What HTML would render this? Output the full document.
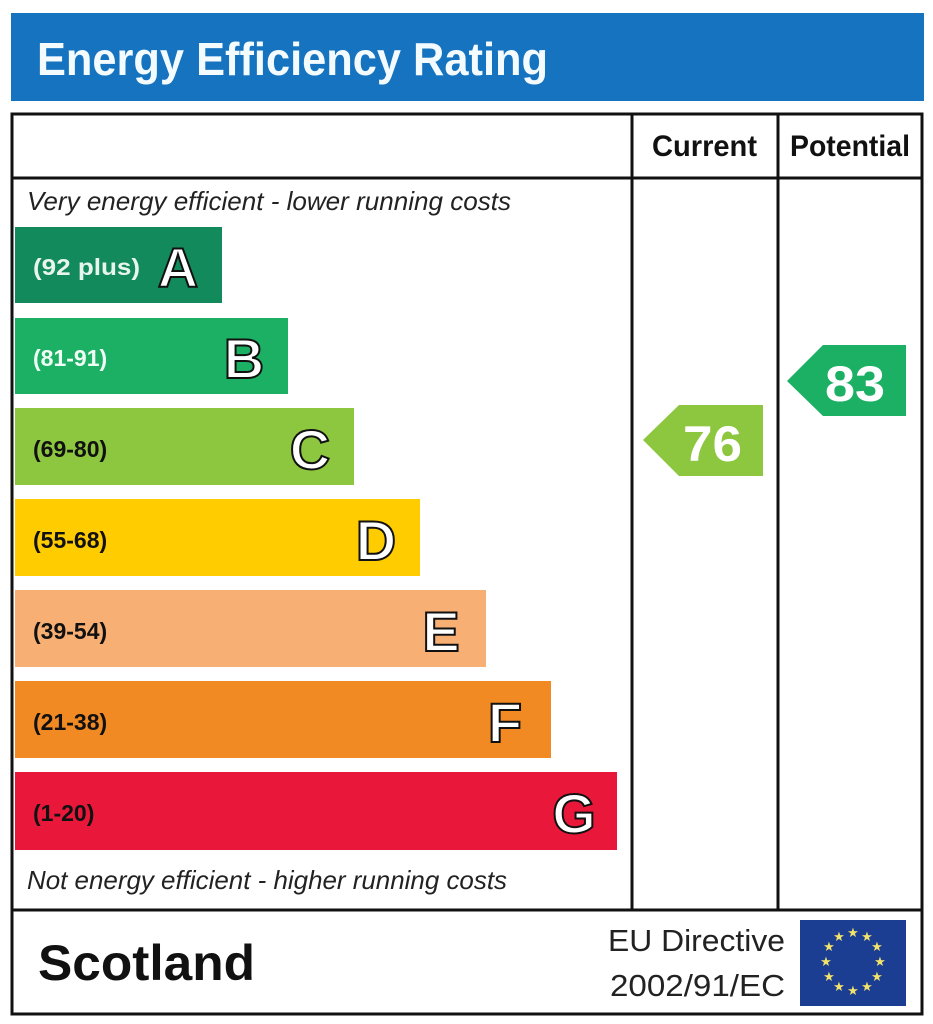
<!DOCTYPE html>
<html><head><meta charset="utf-8"><style>
html,body{margin:0;padding:0;background:#fff;}
svg,svg text{font-family:"Liberation Sans",Arial,sans-serif;}
svg{display:block;}
</style></head><body>
<svg width="933" height="1024" viewBox="0 0 933 1024" xmlns="http://www.w3.org/2000/svg" font-family="Liberation Sans, Arial, sans-serif">
<rect x="11" y="13" width="913" height="88" fill="#1673bf"/>
<text x="37" y="75" font-size="46" font-weight="bold" fill="#f4fbff" textLength="511" lengthAdjust="spacingAndGlyphs">Energy Efficiency Rating</text>
<rect x="12" y="114" width="910" height="900" fill="none" stroke="#111" stroke-width="3"/>
<line x1="12" y1="178" x2="922" y2="178" stroke="#111" stroke-width="3"/>
<line x1="632" y1="114" x2="632" y2="910" stroke="#111" stroke-width="3"/>
<line x1="778" y1="114" x2="778" y2="910" stroke="#111" stroke-width="3"/>
<line x1="12" y1="910" x2="922" y2="910" stroke="#111" stroke-width="3"/>
<text x="652" y="156" font-size="30" font-weight="bold" fill="#111" textLength="105" lengthAdjust="spacingAndGlyphs">Current</text>
<text x="790" y="156" font-size="30" font-weight="bold" fill="#111" textLength="120" lengthAdjust="spacingAndGlyphs">Potential</text>
<text x="27" y="210" font-size="26" font-style="italic" fill="#222" textLength="484" lengthAdjust="spacingAndGlyphs">Very energy efficient - lower running costs</text>
<text x="27" y="889" font-size="26" font-style="italic" fill="#222" textLength="480" lengthAdjust="spacingAndGlyphs">Not energy efficient - higher running costs</text>
<g font-weight="bold">
<rect x="15" y="227" width="207" height="76" fill="#138a5b"/>
<text x="33" y="275" font-size="23" fill="#e8f5ee" textLength="107" lengthAdjust="spacingAndGlyphs">(92 plus)</text>
<text x="178" y="287" font-size="56" fill="#fff" stroke="#111" stroke-width="2" text-anchor="middle">A</text>
<rect x="15" y="318" width="273" height="76" fill="#1bb063"/>
<text x="33" y="366" font-size="23" fill="#f0fff5">(81-91)</text>
<text x="244" y="378" font-size="56" fill="#fff" stroke="#111" stroke-width="2" text-anchor="middle">B</text>
<rect x="15" y="408" width="339" height="77" fill="#8dc63f"/>
<text x="33" y="457" font-size="23" fill="#111">(69-80)</text>
<text x="310" y="469" font-size="56" fill="#fff" stroke="#111" stroke-width="2" text-anchor="middle">C</text>
<rect x="15" y="499" width="405" height="77" fill="#ffcc00"/>
<text x="33" y="548" font-size="23" fill="#111">(55-68)</text>
<text x="376" y="560" font-size="56" fill="#fff" stroke="#111" stroke-width="2" text-anchor="middle">D</text>
<rect x="15" y="590" width="471" height="77" fill="#f7af73"/>
<text x="33" y="639" font-size="23" fill="#111">(39-54)</text>
<text x="441" y="651" font-size="56" fill="#fff" stroke="#111" stroke-width="2" text-anchor="middle">E</text>
<rect x="15" y="681" width="536" height="77" fill="#f28a24"/>
<text x="33" y="730" font-size="23" fill="#111">(21-38)</text>
<text x="505" y="742" font-size="56" fill="#fff" stroke="#111" stroke-width="2" text-anchor="middle">F</text>
<rect x="15" y="772" width="602" height="78" fill="#e9183a"/>
<text x="33" y="821" font-size="23" fill="#111">(1-20)</text>
<text x="574" y="833" font-size="56" fill="#fff" stroke="#111" stroke-width="2" text-anchor="middle">G</text>
<polygon points="643,440 679,405 763,405 763,476 679,476" fill="#8dc63f"/>
<text x="683" y="461" font-size="50" fill="#fff" textLength="59" lengthAdjust="spacingAndGlyphs">76</text>
<polygon points="787,381 823,345 906,345 906,416 823,416" fill="#1bb063"/>
<text x="825" y="401" font-size="50" fill="#fff" textLength="60" lengthAdjust="spacingAndGlyphs">83</text>
<text x="38" y="980" font-size="50" fill="#111" textLength="217" lengthAdjust="spacingAndGlyphs">Scotland</text>
</g>
<text x="608" y="951" font-size="31" fill="#222" textLength="177" lengthAdjust="spacingAndGlyphs">EU Directive</text>
<text x="610" y="996" font-size="31" fill="#222" textLength="175" lengthAdjust="spacingAndGlyphs">2002/91/EC</text>
<rect x="800" y="920" width="106" height="86" fill="#1b3e93"/>
<g fill="#f3e36a" font-size="13" text-anchor="middle">
<text x="853" y="937">★</text><text x="867" y="941">★</text><text x="877" y="951">★</text>
<text x="880" y="966">★</text><text x="877" y="981">★</text><text x="867" y="991">★</text>
<text x="853" y="995">★</text><text x="839" y="991">★</text><text x="829" y="981">★</text>
<text x="826" y="966">★</text><text x="829" y="951">★</text><text x="839" y="941">★</text>
</g>
</svg>
</body></html>
